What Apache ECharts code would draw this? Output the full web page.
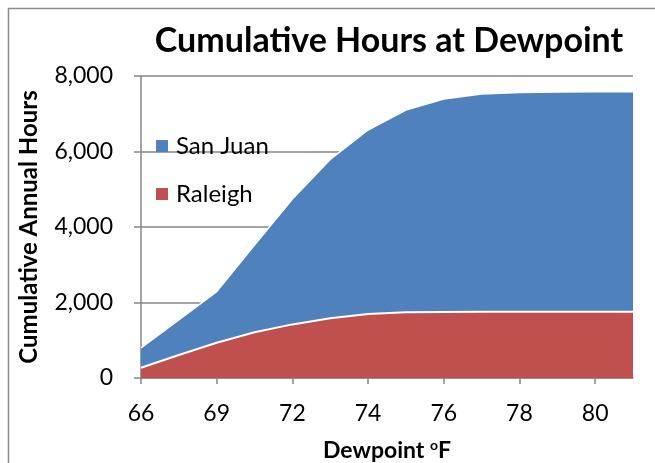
<!DOCTYPE html>
<html>
<head>
<meta charset="utf-8">
<script src="https://cdn.jsdelivr.net/npm/echarts@6/dist/echarts.min.js"></script>
<style>html,body{margin:0;padding:0;background:#fff;}#c{width:655px;height:463px;}</style>
</head>
<body>
<div id="c"></div>
<script>
const categories = ["66","67","69","70","72","73","74","75","76","77","78","79","80","81"];
const sanJuan = [795, 1540, 2290, 3520, 4740, 5790, 6570, 7100, 7390, 7520, 7560, 7575, 7580, 7580];
const raleigh = [270, 610, 935, 1210, 1420, 1580, 1695, 1740, 1750, 1755, 1755, 1755, 1755, 1755];
const yTicks = [0, 2000, 4000, 6000, 8000];

const FONT = 'Lato';
const chart = echarts.init(document.getElementById('c'));
chart.setOption({
  animation: false,
  textStyle: { fontFamily: FONT },
  title: {
    text: 'Cumulative Hours at Dewpoint',
    left: 384, top: 19, textAlign: 'center',
    textStyle: { fontFamily: FONT, fontWeight: 'bold', fontSize: 34, color: '#000' }
  },
  graphic: [{
    type: 'rect', shape: { x: 8.5, y: 8.5, width: 660, height: 470 },
    style: { fill: 'none', stroke: '#8c8c8c', lineWidth: 1.5 }, silent: true, z: -10
  }],
  legend: {
    orient: 'vertical', left: 151, top: 129, itemGap: 24,
    itemWidth: 12, itemHeight: 12, icon: 'rect',
    data: ['San Juan', 'Raleigh'],
    textStyle: { fontFamily: FONT, fontSize: 24, lineHeight: 24, color: '#000', padding: [0, 0, 0, 3] }
  },
  grid: { left: 141, right: 22, top: 76, bottom: 85, containLabel: false, outerBoundsMode: 'none' },
  xAxis: {
    type: 'category', data: categories, boundaryGap: false,
    name: '{a|Dewpoint }{s|o}{a|F}', nameLocation: 'middle', nameGap: 60,
    nameTextStyle: {
      rich: {
        a: { fontFamily: FONT, fontWeight: 'bold', fontSize: 23, color: '#000' },
        s: { fontFamily: FONT, fontWeight: 'bold', fontSize: 14, color: '#000', verticalAlign: 'top', padding: [0, 0, 12, 0] }
      }
    },
    axisLine: { lineStyle: { color: '#868686', width: 1.5 } },
    axisTick: { show: true, interval: 1, length: 6, inside: false, lineStyle: { color: '#868686', width: 1.5 } },
    axisLabel: { interval: 1, fontFamily: FONT, fontSize: 23, color: '#000', margin: 24 },
    splitLine: { show: false }
  },
  yAxis: {
    type: 'value', min: 0, max: 8000, interval: 2000,
    name: 'Cumulative Annual Hours', nameLocation: 'middle', nameGap: 100, nameRotate: 90,
    nameTextStyle: { fontFamily: FONT, fontWeight: 'bold', fontSize: 24, color: '#000' },
    axisLine: { show: true, lineStyle: { color: '#868686', width: 1.5 } },
    axisTick: { show: true, length: 7, lineStyle: { color: '#868686', width: 1.5 } },
    axisLabel: {
      fontFamily: FONT, fontSize: 23, color: '#000', margin: 28,
      formatter: v => yTicks.includes(v) ? v.toLocaleString('en-US') : ''
    },
    splitLine: { show: true, lineStyle: { color: '#868686', width: 1.5 } }
  },
  series: [
    {
      name: 'San Juan', type: 'line', data: sanJuan, symbol: 'none', smooth: false,
      color: '#4F81BD',
      lineStyle: { color: '#ffffff', width: 1.5 },
      areaStyle: { color: '#4F81BD', opacity: 1 },
      z: 2
    },
    {
      name: 'Raleigh', type: 'line', data: raleigh, symbol: 'none', smooth: false,
      color: '#C0504D',
      lineStyle: { color: '#ffffff', width: 2 },
      areaStyle: { color: '#C0504D', opacity: 1 },
      z: 3
    }
  ]
});
</script>
</body>
</html>
